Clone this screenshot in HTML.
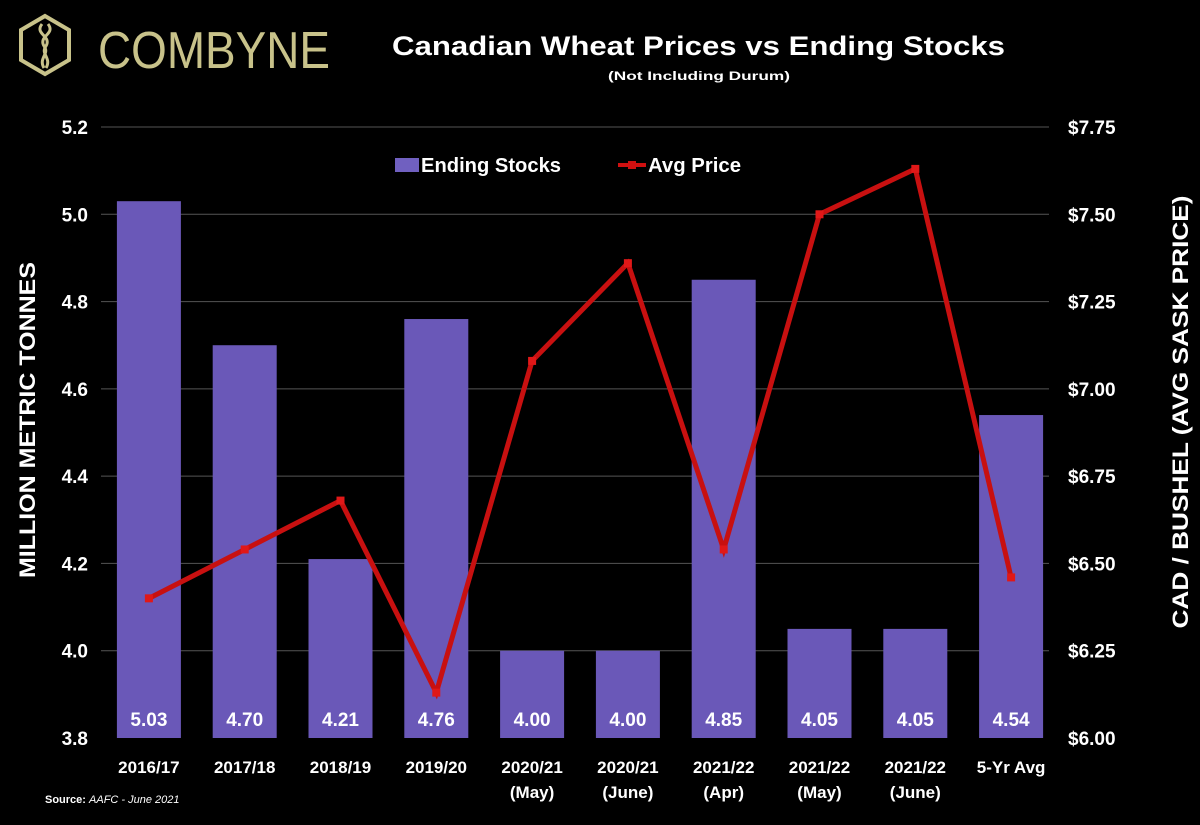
<!DOCTYPE html>
<html><head><meta charset="utf-8"><style>
html,body{margin:0;padding:0;background:#000;}
svg text{font-family:"Liberation Sans",sans-serif;font-weight:bold;}
</style></head><body>
<svg id="chart" width="1200" height="820" viewBox="0 0 1200 820" xmlns="http://www.w3.org/2000/svg">
<rect width="1200" height="820" fill="#000"/>
<g>
<polygon points="45,16 69,30 69,60 45,74 21,60 21,30" fill="none" stroke="#c8c28a" stroke-width="4"/>
<path d="M42,24 C34,34 52,36 46,46 C40,54 52,58 46,68 M48,24 C56,34 38,36 44,46 C50,54 38,58 44,68" fill="none" stroke="#c8c28a" stroke-width="3"/>
<text x="98" y="68" font-size="52" fill="#c8c28a" textLength="232" lengthAdjust="spacingAndGlyphs" style="font-weight:normal">COMBYNE</text>
</g>
<text x="392" y="55" font-size="27" fill="#fff" textLength="613" lengthAdjust="spacingAndGlyphs">Canadian Wheat Prices vs Ending Stocks</text>
<text x="608" y="80" font-size="12" fill="#fff" textLength="182" lengthAdjust="spacingAndGlyphs">(Not Including Durum)</text>
<g id="grid"></g><g id="bars"></g><g id="line"></g><g id="axes"></g>
<g>
<rect x="395" y="158" width="24" height="14" fill="#7060c0"/>
<text x="421" y="172" font-size="20" fill="#fff" textLength="140" lengthAdjust="spacingAndGlyphs">Ending Stocks</text>
<line x1="618" y1="165" x2="646" y2="165" stroke="#d01010" stroke-width="4"/>
<rect x="628" y="161" width="8" height="8" fill="#d01010"/>
<text x="648" y="172" font-size="20" fill="#fff" textLength="93" lengthAdjust="spacingAndGlyphs">Avg Price</text>
</g>
<text transform="translate(35,420) rotate(-90)" font-size="22" fill="#fff" text-anchor="middle" textLength="316" lengthAdjust="spacingAndGlyphs">MILLION METRIC TONNES</text>
<text transform="translate(1188,412) rotate(-90)" font-size="22" fill="#fff" text-anchor="middle" textLength="433" lengthAdjust="spacingAndGlyphs">CAD / BUSHEL (AVG SASK PRICE)</text>
<text x="45" y="803" font-size="11" fill="#fff">Source: <tspan style="font-style:italic;font-weight:normal">AAFC - June 2021</tspan></text>
</svg>
<script>
const categories=[["2016/17"],["2017/18"],["2018/19"],["2019/20"],["2020/21","(May)"],["2020/21","(June)"],["2021/22","(Apr)"],["2021/22","(May)"],["2021/22","(June)"],["5-Yr Avg"]];
const stocks=[5.03,4.70,4.21,4.76,4.00,4.00,4.85,4.05,4.05,4.54];
const prices=[6.40,6.54,6.68,6.13,7.08,7.36,6.54,7.50,7.63,6.46];
const leftTicks=[3.8,4.0,4.2,4.4,4.6,4.8,5.0,5.2];
const rightTicks=[6.00,6.25,6.50,6.75,7.00,7.25,7.50,7.75];
const NS="http://www.w3.org/2000/svg";
const X0=101,X1=1059,YT=127,YB=738;
const yL=v=>YB-(v-3.8)/(5.2-3.8)*(YB-YT);
const yR=v=>YB-(v-6)/(7.75-6)*(YB-YT);
const step=(X1-X0)/categories.length;
const xC=i=>X0+step*(i+0.5);
function mk(tag,attrs,parent){const e=document.createElementNS(NS,tag);for(const k in attrs)e.setAttribute(k,attrs[k]);document.getElementById(parent).appendChild(e);return e;}
leftTicks.forEach((t,i)=>{
 if(i>0){const g=mk('line',{x1:X0,x2:X1-10,y1:yL(t),y2:yL(t),stroke:'#555','stroke-width':1},'grid');
 
 }
 const l=mk('text',{x:88,y:yL(t)+7,'font-size':19,fill:'#fff','text-anchor':'end'},'axes');l.textContent=t.toFixed(1);
 
 
});
rightTicks.forEach(t=>{
 const l=mk('text',{x:1068,y:yR(t)+7,'font-size':19,fill:'#fff'},'axes');l.textContent='$'+t.toFixed(2);
 
 
});
const bw=64;
stocks.forEach((v,i)=>{
 const r=mk('rect',{x:xC(i)-bw/2,y:yL(v),width:bw,height:YB-yL(v),fill:'#6a58b8'},'bars');
 
 
 const t=mk('text',{x:xC(i),y:726,'font-size':19,fill:'#fff','text-anchor':'middle'},'bars');t.textContent=v.toFixed(2);
 
 
 categories[i].forEach((s,j)=>{const c=mk('text',{x:xC(i),y:773+j*25,'font-size':17,fill:'#fff','text-anchor':'middle'},'axes');c.textContent=s;
 
 });
});
const p=mk('polyline',{points:prices.map((v,i)=>xC(i)+','+yR(v)).join(' '),fill:'none',stroke:'#c81010','stroke-width':5,'stroke-linejoin':'miter'},'line');


prices.forEach((v,i)=>{const m=mk('rect',{x:xC(i)-4,y:yR(v)-4,width:8,height:8,fill:'#e01818'},'line');
 
 });
</script>
</body></html>
